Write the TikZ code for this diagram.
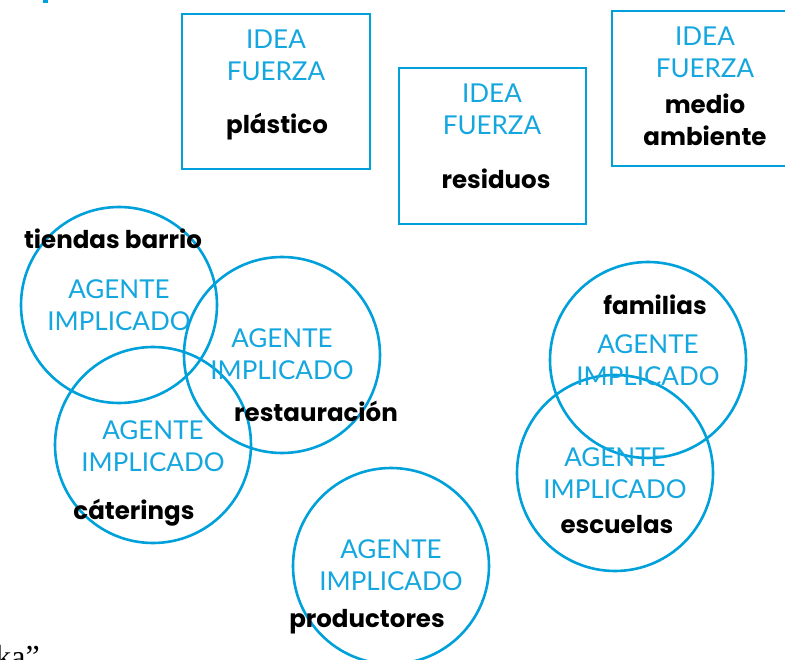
\documentclass[tikz,border=0pt]{standalone}
\usepackage{fontspec}
\setmainfont{Lato}
\newfontfamily\headfont{Poppins}
\newfontfamily\serifx{Liberation Serif}
\definecolor{ablue}{RGB}{0,160,218}
\definecolor{tblue}{RGB}{20,166,222}
\begin{document}
\begin{tikzpicture}[x=1pt,y=-1pt,
  idea/.style={draw=ablue,line width=2.6pt},
  agent/.style={draw=ablue,line width=2.6pt},
  bluetxt/.style={text=tblue,font=\fontsize{26}{30}\selectfont,inner sep=0pt,anchor=base},
  blacktxt/.style={text=black,font=\headfont\fontsize{24.5}{28}\selectfont\bfseries,inner sep=0pt,anchor=base}]
\useasboundingbox (0,0) rectangle (785,660);
\clip (0,0) rectangle (785,660);
% fragments at edges
\fill[ablue] (43,0) rectangle (48,3);
\node[font=\serifx\fontsize{32}{36}\selectfont,anchor=base east,inner sep=0pt] (frag) at (40,667) {ka”};
% boxes
\draw[idea] (182,14) rectangle (370,169);
\node[bluetxt] (b1a) at (276,49) {IDEA};
\node[bluetxt] (b1b) at (276,81) {FUERZA};
\node[blacktxt] (b1c) at (277,134) {plástico};
\draw[idea] (399,68) rectangle (586,224);
\node[bluetxt] (b2a) at (492,103) {IDEA};
\node[bluetxt] (b2b) at (492,135) {FUERZA};
\node[blacktxt] (b2c) at (496,189) {residuos};
\draw[idea] (612,11) rectangle (795,166);
\node[bluetxt] (b3a) at (705,46) {IDEA};
\node[bluetxt] (b3b) at (705,78) {FUERZA};
\node[blacktxt] (b3c) at (705,114) {medio};
\node[blacktxt] (b3d) at (705,146) {ambiente};
% circles
\draw[agent] (119,305) circle (98);
\draw[agent] (282,355) circle (98);
\draw[agent] (153,445) circle (98);
\draw[agent] (648,360) circle (98);
\draw[agent] (615,473) circle (98);
\draw[agent] (391,566) circle (98);
% circle texts
\node[blacktxt] (c1n) at (113,249) {tiendas barrio};
\node[bluetxt] (c1a) at (119,299) {AGENTE};
\node[bluetxt] (c1b) at (119,331) {IMPLICADO};
\node[bluetxt] (c2a) at (282,348) {AGENTE};
\node[bluetxt] (c2b) at (282,380) {IMPLICADO};
\node[blacktxt] (c2n) at (316,421) {restauración};
\node[bluetxt] (c3a) at (153,439) {AGENTE};
\node[bluetxt] (c3b) at (153,471) {IMPLICADO};
\node[blacktxt] (c3n) at (134,519) {cáterings};
\node[blacktxt] (c4n) at (655,315) {familias};
\node[bluetxt] (c4a) at (648,354) {AGENTE};
\node[bluetxt] (c4b) at (648,386) {IMPLICADO};
\node[bluetxt] (c5a) at (615,466) {AGENTE};
\node[bluetxt] (c5b) at (615,498) {IMPLICADO};
\node[blacktxt] (c5n) at (617,533) {escuelas};
\node[bluetxt] (c6a) at (391,558) {AGENTE};
\node[bluetxt] (c6b) at (391,590) {IMPLICADO};
\node[blacktxt] (c6n) at (367,627) {productores};
\end{tikzpicture}
\end{document}
